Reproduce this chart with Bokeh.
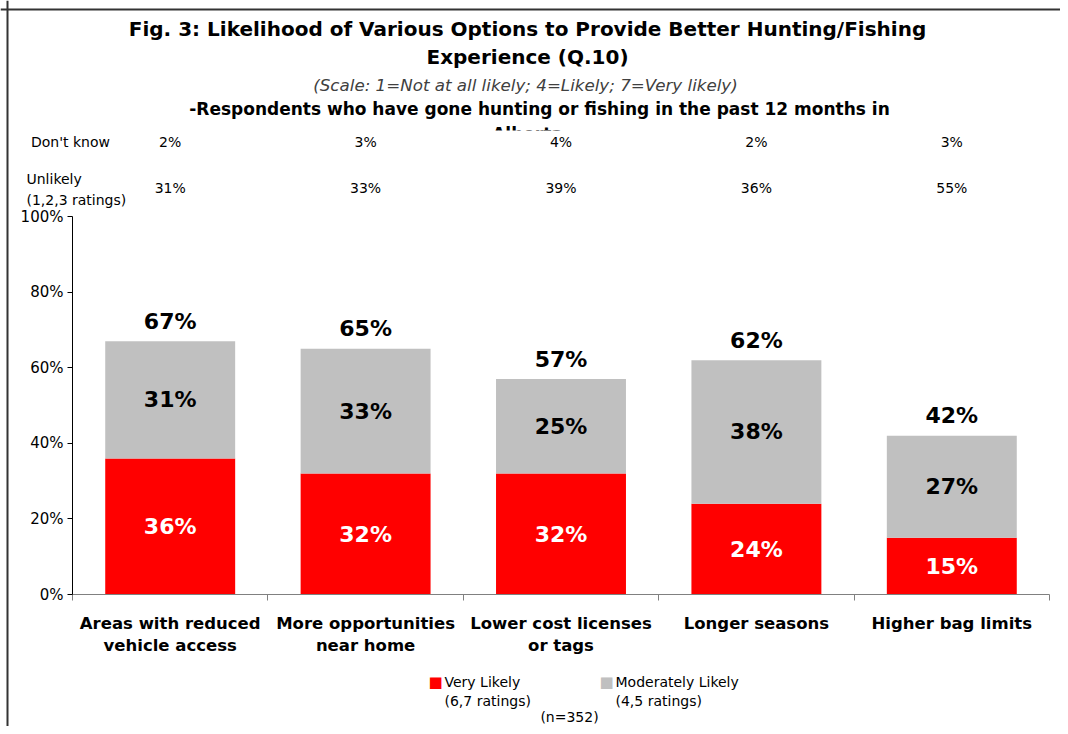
from bokeh.plotting import figure
from bokeh.models import Range1d, FixedTicker, PrintfTickFormatter, Label, BoxAnnotation, Span
from bokeh.embed import file_html
from bokeh.resources import INLINE

categories = ["Areas with reduced\nvehicle access", "More opportunities\nnear home",
              "Lower cost licenses\nor tags", "Longer seasons", "Higher bag limits"]
very_likely = [36, 32, 32, 24, 15]
moderately_likely = [31, 33, 25, 38, 27]
totals = [67, 65, 57, 62, 42]
dont_know = [2, 3, 4, 2, 3]
unlikely = [31, 33, 39, 36, 55]
y_ticks = [0, 20, 40, 60, 80, 100]

RED = "#FF0000"
GRAY = "#C0C0C0"
FONT = "DejaVu Sans"

# page-pixel helpers (axes: x 72..1049 for 5 categories, y 0% at 594, 3.78 px per %)
def px(x):
    return (x - 72) / 195.4

def py(y):
    return (594 - y) / 3.78

xs = [i + 0.5 for i in range(len(categories))]
mid_red = [v / 2 for v in very_likely]
mid_gray = [v + m / 2 for v, m in zip(very_likely, moderately_likely)]

p = figure(width=1060, height=726, x_range=Range1d(px(0), px(1060)), y_range=Range1d(py(726), py(0)),
           output_backend="svg", toolbar_location=None,
           min_border_left=0, min_border_right=0, min_border_top=0, min_border_bottom=0)

p.vbar(x=xs, bottom=0, top=very_likely, width=0.665, fill_color=RED, line_color=None)
p.vbar(x=xs, bottom=very_likely, top=totals, width=0.665, fill_color=GRAY, line_color=None)

p.text(x=xs, y=mid_red, text=[f"{v}%" for v in very_likely], text_align="center",
       text_baseline="middle", text_color="white", text_font_size="22px",
       text_font_style="bold", text_font={"value": FONT})
p.text(x=xs, y=mid_gray, text=[f"{v}%" for v in moderately_likely], text_align="center",
       text_baseline="middle", text_color="black", text_font_size="22px",
       text_font_style="bold", text_font={"value": FONT})
p.text(x=xs, y=totals, y_offset=-20, text=[f"{v}%" for v in totals], text_align="center",
       text_baseline="middle", text_color="black", text_font_size="22px",
       text_font_style="bold", text_font={"value": FONT})

# axes
p.grid.visible = False
p.outline_line_color = None

xa = p.xaxis[0]
xa.fixed_location = 0
xa.bounds = (0, 5)
xa.ticker = FixedTicker(ticks=xs, minor_ticks=[0, 1, 2, 3, 4, 5])
xa.major_label_overrides = {x: c for x, c in zip(xs, categories)}
xa.major_tick_line_color = None
xa.major_tick_in = 0
xa.major_tick_out = 0
xa.minor_tick_in = 0
xa.minor_tick_out = 6
xa.minor_tick_line_color = "#808080"
xa.axis_line_color = "#808080"
xa.major_label_text_font = FONT
xa.major_label_text_font_style = "bold"
xa.major_label_text_font_size = "16.5px"
xa.major_label_text_color = "black"
xa.major_label_standoff = 13

ya = p.yaxis[0]
ya.fixed_location = 0
ya.ticker = FixedTicker(ticks=y_ticks)
ya.formatter = PrintfTickFormatter(format="%d%%")
ya.bounds = (0, 100)
ya.major_tick_in = 0
ya.major_tick_out = 5
ya.minor_tick_line_color = None
ya.axis_line_color = "black"
ya.major_tick_line_color = "black"
ya.major_label_text_font = FONT
ya.major_label_text_font_size = "15px"
ya.major_label_text_color = "black"
ya.major_label_standoff = 4

# chart border (top and left edges)
p.add_layout(Span(location=px(7), dimension="height", line_color="#333333", line_width=2))
p.add_layout(Span(location=py(9), dimension="width", line_color="#333333", line_width=2))


def lab(x, y, text, size="14px", style="normal", align="center", color="black", baseline="middle"):
    p.add_layout(Label(x=x, y=y, text=text, text_font=FONT, text_font_size=size,
                       text_font_style=style, text_align=align, text_baseline=baseline,
                       text_color=color))


# titles
lab(px(527), py(28), "Fig. 3: Likelihood of Various Options to Provide Better Hunting/Fishing", "20px", "bold")
lab(px(527), py(56), "Experience (Q.10)", "20px", "bold")
lab(px(525), py(84), "(Scale: 1=Not at all likely; 4=Likely; 7=Very likely)", "16.7px", "italic", color="#404040")
lab(px(539), py(108), "-Respondents who have gone hunting or fishing in the past 12 months in", "17px", "bold")
lab(px(527), py(133), "Alberta", "17px", "bold")
p.add_layout(BoxAnnotation(left=px(470), right=px(590), bottom=py(143), top=py(130),
                           fill_color="white", fill_alpha=1.0, line_color=None))

# row labels above the chart
lab(px(70), py(141), "Don't know")
lab(px(26), py(178), "Unlikely", align="left")
lab(px(26), py(199), "(1,2,3 ratings)", align="left")
for x, d, u in zip(xs, dont_know, unlikely):
    lab(x, py(141), f"{d}%")
    lab(x, py(187), f"{u}%")

# legend
lab(px(435), py(681), "\u25A0", "15px", color=RED)
lab(px(444), py(681), "Very Likely", align="left")
lab(px(444), py(700), "(6,7 ratings)", align="left")
lab(px(606), py(681), "\u25A0", "15px", color=GRAY)
lab(px(615), py(681), "Moderately Likely", align="left")
lab(px(615), py(700), "(4,5 ratings)", align="left")
lab(px(569), py(716), "(n=352)")

open("out.html", "w").write(file_html(p, INLINE))
